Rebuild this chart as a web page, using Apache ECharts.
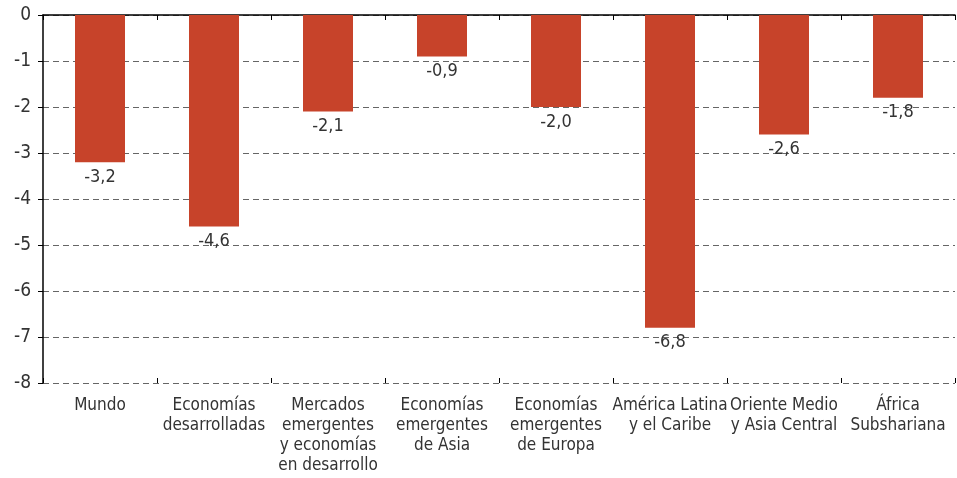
<!DOCTYPE html>
<html>
<head>
<meta charset="utf-8">
<script src="https://cdn.jsdelivr.net/npm/echarts@6/dist/echarts.min.js"></script>
<style>
html, body { margin: 0; padding: 0; background: #fff; }
#chart { width: 957px; height: 478px; }
</style>
</head>
<body>
<div id="chart"></div>
<script>
// categorías y valores
var categories = ['Mundo', 'Economías\ndesarrolladas', 'Mercados\nemergentes\ny economías\nen desarrollo',
    'Economías\nemergentes\nde Asia', 'Economías\nemergentes\nde Europa', 'América Latina\ny el Caribe',
    'Oriente Medio\ny Asia Central', 'África\nSubshariana'];
var values = [-3.2, -4.6, -2.1, -0.9, -2.0, -6.8, -2.6, -1.8];
var yTicks = [0, -1, -2, -3, -4, -5, -6, -7, -8];

var font = '"Liberation Sans Narrow", "DejaVu Sans Condensed", sans-serif';
var chart = echarts.init(document.getElementById('chart'));
chart.setOption({
    animation: false,
    grid: { left: 43, right: 2, top: 15, bottom: 95 },
    xAxis: [{
        type: 'category',
        position: 'top',
        data: categories,
        axisLine: { show: true, lineStyle: { color: '#000', width: 1.5 } },
        axisTick: { show: true, inside: true, length: 5, lineStyle: { color: '#000' } },
        axisLabel: { show: false }
    }, {
        type: 'category',
        position: 'bottom',
        data: categories,
        axisLine: { show: false },
        axisTick: { show: true, inside: true, length: 5, lineStyle: { color: '#000' } },
        axisLabel: { color: '#333', fontFamily: font, fontSize: 17, lineHeight: 20, margin: 13, interval: 0 }
    }],
    yAxis: {
        type: 'value',
        min: -8, max: 0, interval: 1,
        axisLine: { show: true, lineStyle: { color: '#000', width: 1.5 } },
        axisTick: { show: true, length: 5, lineStyle: { color: '#000' } },
        axisLabel: { color: '#333', fontFamily: font, fontSize: 19, margin: 12,
            formatter: function (v) { return yTicks.indexOf(v) >= 0 ? String(v) : ''; } },
        splitLine: { show: true, lineStyle: { color: '#666', type: [6, 4], width: 1 } }
    },
    series: [{
        type: 'bar',
        xAxisIndex: 1,
        data: values,
        barWidth: 50,
        itemStyle: { color: '#c7432a' },
        label: {
            show: true,
            position: 'bottom',
            distance: 6,
            color: '#333',
            fontFamily: font,
            fontSize: 18,
            formatter: function (p) { return p.value.toFixed(1).replace('.', ','); }
        }
    }]
});
</script>
</body>
</html>
